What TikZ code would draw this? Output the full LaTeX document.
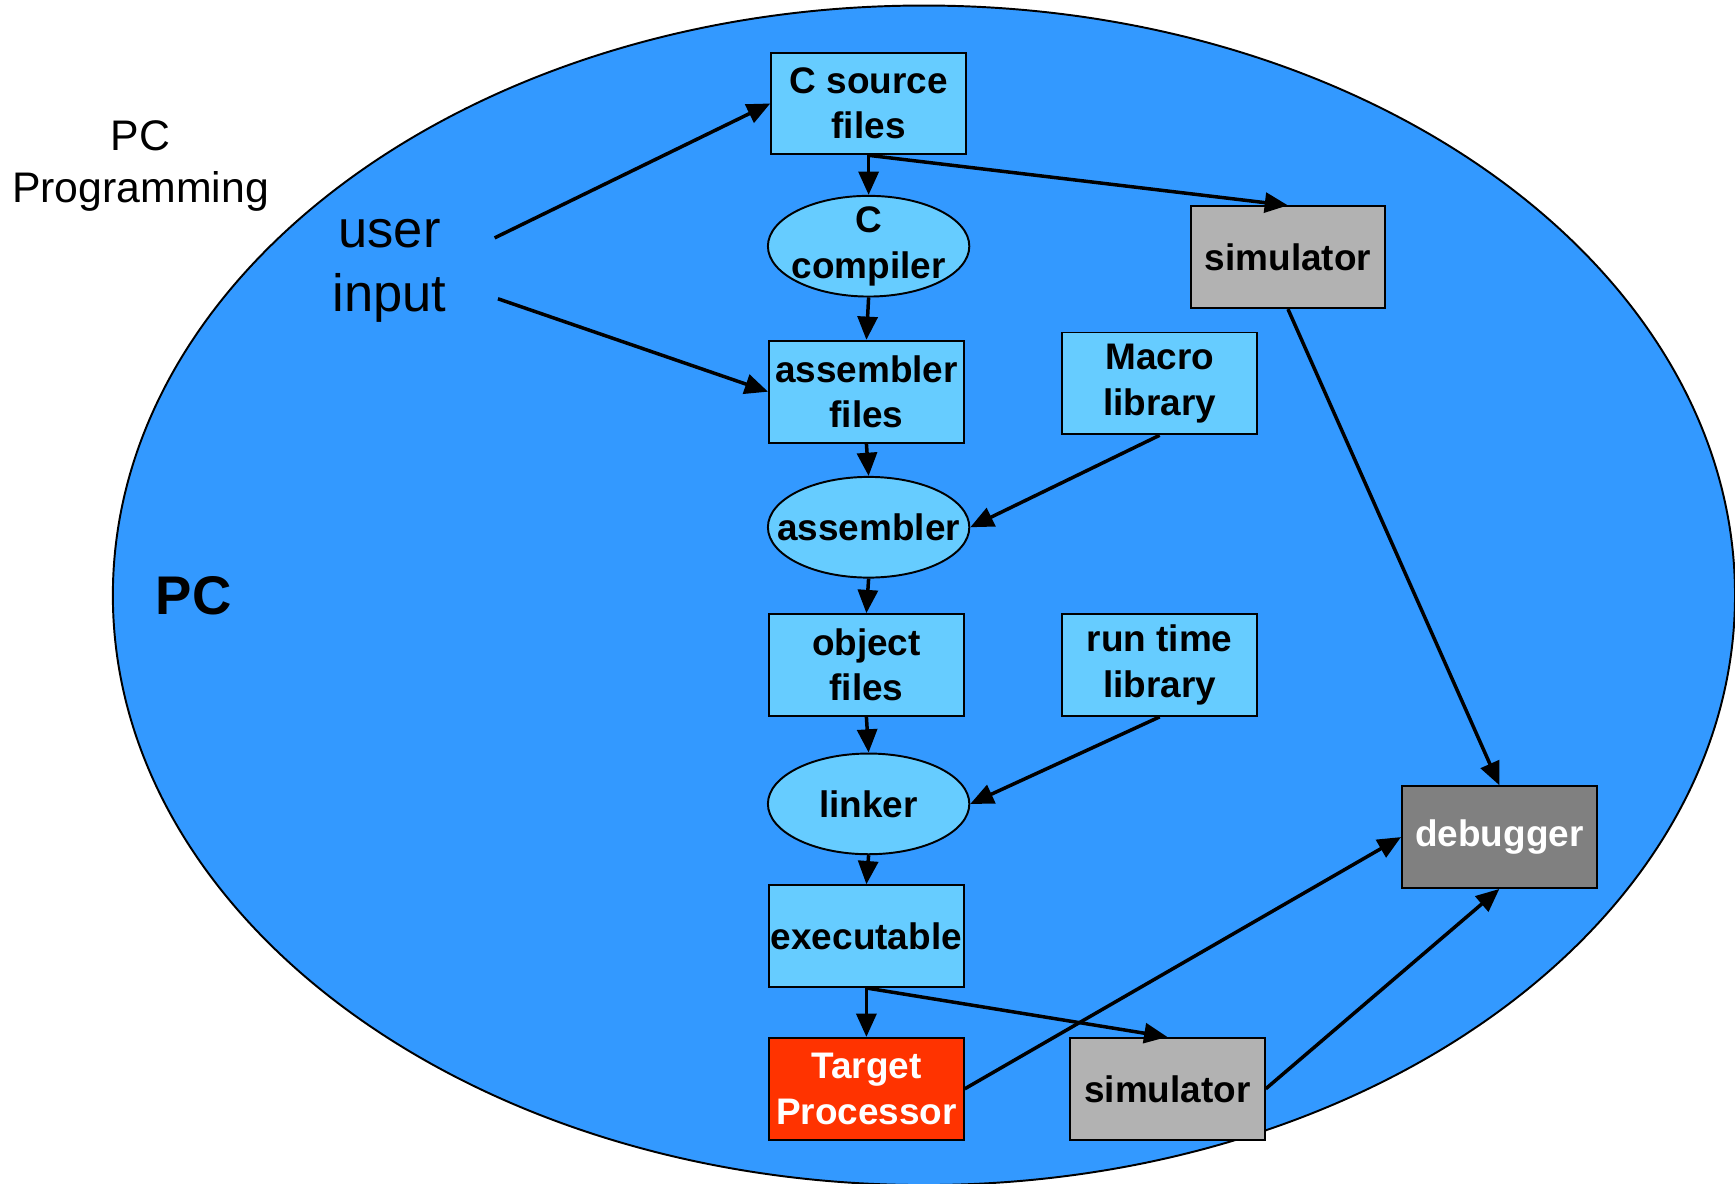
\documentclass[tikz,border=0pt]{standalone}
\usepackage{fontspec}
\setmainfont{Liberation Sans}
\usetikzlibrary{shapes.geometric,arrows.meta}

\definecolor{pcblue}{HTML}{3399FF}
\definecolor{toolblue}{HTML}{66CCFF}
\definecolor{simgray}{HTML}{B2B2B2}
\definecolor{dbggray}{HTML}{808080}
\definecolor{targetred}{HTML}{FF3300}

\tikzset{
  boxfont/.style={font=\bfseries\fontsize{9.5}{11.7}\selectfont},
  filebox/.style={draw, line width=0.5pt, fill=toolblue, minimum width=1.76cm, minimum height=0.92cm,
    inner sep=0pt, align=center, boxfont},
  % the text of a tool runs over its ellipse, so it is set as a label
  toolnode/.style={draw, line width=0.5pt, fill=toolblue, ellipse, inner sep=0pt,
    minimum width=1.82cm, minimum height=0.91cm,
    label={[boxfont, align=center, inner sep=0pt]center:#1}},
  simbox/.style={filebox, fill=simgray},
  flow/.style={line width=0.9pt, -{Triangle[length=0.21cm,width=0.18cm]}}
}

\begin{document}
\begin{tikzpicture}
\useasboundingbox (0,0) rectangle (15.68,10.70);
% the PC
\draw[fill=pcblue, line width=0.5pt] (8.35,5.32) ellipse (7.33cm and 5.33cm);
\node[align=center, font=\fontsize{11}{13.2}\selectfont] (title) at (1.27,9.20) {PC\\Programming};
\node[align=center, font=\fontsize{13.5}{16.5}\selectfont] (user) at (3.52,8.25) {user\\input};
\node[font=\bfseries\fontsize{14}{16}\selectfont] (pc) at (1.75,5.32) {PC};
\coordinate (u1) at (4.47,8.55);
\coordinate (u2) at (4.50,8.00);

% tool chain
\node[filebox] (csrc) at (7.85,9.765) {C source\\files};
\node[toolnode={C\\compiler}] (ccomp) at (7.85,8.475) {};
\node[filebox] (asmf) at (7.83,7.16) {assembler\\files};
\node[filebox] (macro) at (10.48,7.235) {Macro\\library};
\node[toolnode=assembler] (asm) at (7.85,5.935) {};
\node[filebox] (objf) at (7.83,4.69) {object\\files};
\node[filebox] (rtl) at (10.48,4.69) {run time\\library};
\node[toolnode=linker] (linker) at (7.85,3.435) {};
\node[filebox] (exe) at (7.83,2.24) {executable};
\node[filebox, fill=targetred, text=white] (target) at (7.83,0.86) {Target\\Processor};

% simulators and debugger
\node[simbox] (simA) at (11.64,8.375) {simulator};
\node[simbox] (simB) at (10.55,0.86) {simulator};
\node[filebox, fill=dbggray, text=white] (dbg) at (13.55,3.135) {debugger};

\draw[flow] (u1) -- (csrc.west);
\draw[flow] (u2) -- (asmf.west);
\draw[flow] (csrc.south) -- (ccomp.north);
\draw[flow] (csrc.south) -- (simA.north);
\draw[flow] (ccomp.south) -- (asmf.north);
\draw[flow] (asmf.south) -- (asm.north);
\draw[flow] (macro.south) -- (asm.east);
\draw[flow] (asm.south) -- (objf.north);
\draw[flow] (objf.south) -- (linker.north);
\draw[flow] (rtl.south) -- (linker.east);
\draw[flow] (linker.south) -- (exe.north);
\draw[flow] (exe.south) -- (target.north);
\draw[flow] (exe.south) -- (simB.north);
\draw[flow] (simA.south) -- (dbg.north);
\draw[flow] (target.east) -- (dbg.west);
\draw[flow] (simB.east) -- (dbg.south);
\end{tikzpicture}
\end{document}
